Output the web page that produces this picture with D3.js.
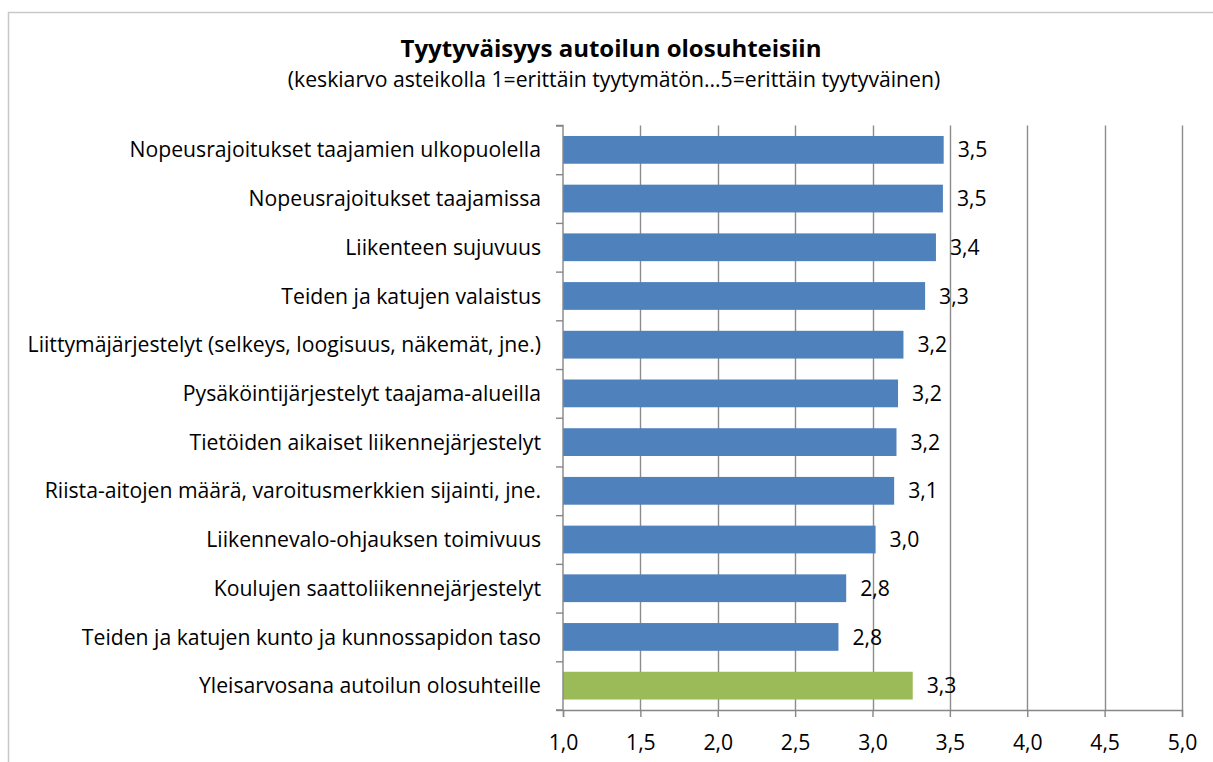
<!DOCTYPE html>
<html><head><meta charset="utf-8">
<script src="https://cdn.jsdelivr.net/npm/d3@7"></script>
<style>body{margin:0;background:#fff;} svg{display:block;} text{font-family:"Open Sans", Lato, sans-serif;fill:#000;}</style>
</head><body>
<svg id="c" width="1213" height="762"></svg>
<script>
const categories = [
  "Nopeusrajoitukset taajamien ulkopuolella",
  "Nopeusrajoitukset taajamissa",
  "Liikenteen sujuvuus",
  "Teiden ja katujen valaistus",
  "Liittymäjärjestelyt (selkeys, loogisuus, näkemät, jne.)",
  "Pysäköintijärjestelyt taajama-alueilla",
  "Tietöiden aikaiset liikennejärjestelyt",
  "Riista-aitojen määrä, varoitusmerkkien sijainti, jne.",
  "Liikennevalo-ohjauksen toimivuus",
  "Koulujen saattoliikennejärjestelyt",
  "Teiden ja katujen kunto ja kunnossapidon taso",
  "Yleisarvosana autoilun olosuhteille"
];
const values = [3.46, 3.455, 3.41, 3.34, 3.20, 3.165, 3.155, 3.14, 3.02, 2.83, 2.78, 3.26];
const labels = ["3,5","3,5","3,4","3,3","3,2","3,2","3,2","3,1","3,0","2,8","2,8","3,3"];
const xTicks = [1.0,1.5,2.0,2.5,3.0,3.5,4.0,4.5,5.0];
const title = "Tyytyväisyys autoilun olosuhteisiin";
const subtitle = "(keskiarvo asteikolla 1=erittäin tyytymätön...5=erittäin tyytyväinen)";

const FS = 21.2;
const svg = d3.select("#c");
svg.append("path").attr("d","M8.5,762 V12.5 H1213").attr("fill","none").attr("stroke","#c8c8c8").attr("stroke-width",1.5);

const pL = 563, pR = 1182, pT = 125.5, pB = 710;
const x = d3.scaleLinear().domain([1,5]).range([pL,pR]);
const y = d3.scaleBand().domain(categories).range([pT,pB]).paddingInner(0.43).paddingOuter(0.215);

svg.append("g").selectAll("line").data(xTicks.slice(1)).join("line")
  .attr("x1",d=>Math.round(x(d))+0.5).attr("x2",d=>Math.round(x(d))+0.5)
  .attr("y1",pT).attr("y2",pB).attr("stroke","#8c8c8c").attr("stroke-width",1.4);

svg.append("g").selectAll("rect").data(categories).join("rect")
  .attr("x",x(1)).attr("y",d=>y(d)).attr("height",y.bandwidth())
  .attr("width",(d,i)=>x(values[i])-x(1))
  .attr("fill",(d,i)=>i===categories.length-1?"#9BBB59":"#4F81BD");

svg.append("g").selectAll("text").data(categories).join("text")
  .attr("x",(d,i)=>x(values[i])+14).attr("y",d=>y(d)+y.bandwidth()/2).attr("dy","0.36em")
  .attr("font-size",FS).text((d,i)=>labels[i]);

const yAxis = d3.axisLeft(d3.scaleLinear().domain([0,12]).range([pT,pB])).ticks(12).tickSize(7).tickFormat("");
const ya = svg.append("g").attr("transform",`translate(${pL},0)`).call(yAxis);
ya.selectAll("path,line").attr("stroke","#868686").attr("stroke-width",1.4);
ya.select(".domain").attr("d",`M-7,${pT}H0V${pB}H-7`);

svg.append("g").selectAll("text").data(categories).join("text")
  .attr("x",541).attr("y",d=>y(d)+y.bandwidth()/2).attr("dy","0.36em")
  .attr("text-anchor","end").attr("font-size",FS).text(d=>d);

const xAxis = d3.axisBottom(x).tickValues(xTicks).tickSize(7).tickPadding(18)
  .tickFormat(d=>d3.format(".1f")(d).replace(".",","));
const xa = svg.append("g").attr("transform",`translate(0,${pB})`).call(xAxis);
xa.selectAll("path,line").attr("stroke","#868686").attr("stroke-width",1.4);
xa.selectAll("text").attr("font-size",FS).attr("font-family","'Open Sans', Lato, sans-serif").attr("fill","#000");

svg.append("text").attr("x",611).attr("y",57).attr("text-anchor","middle").attr("font-size",24).attr("font-weight","bold").text(title);
svg.append("text").attr("x",614).attr("y",87).attr("text-anchor","middle").attr("font-size",FS).text(subtitle);
</script>
</body></html>
